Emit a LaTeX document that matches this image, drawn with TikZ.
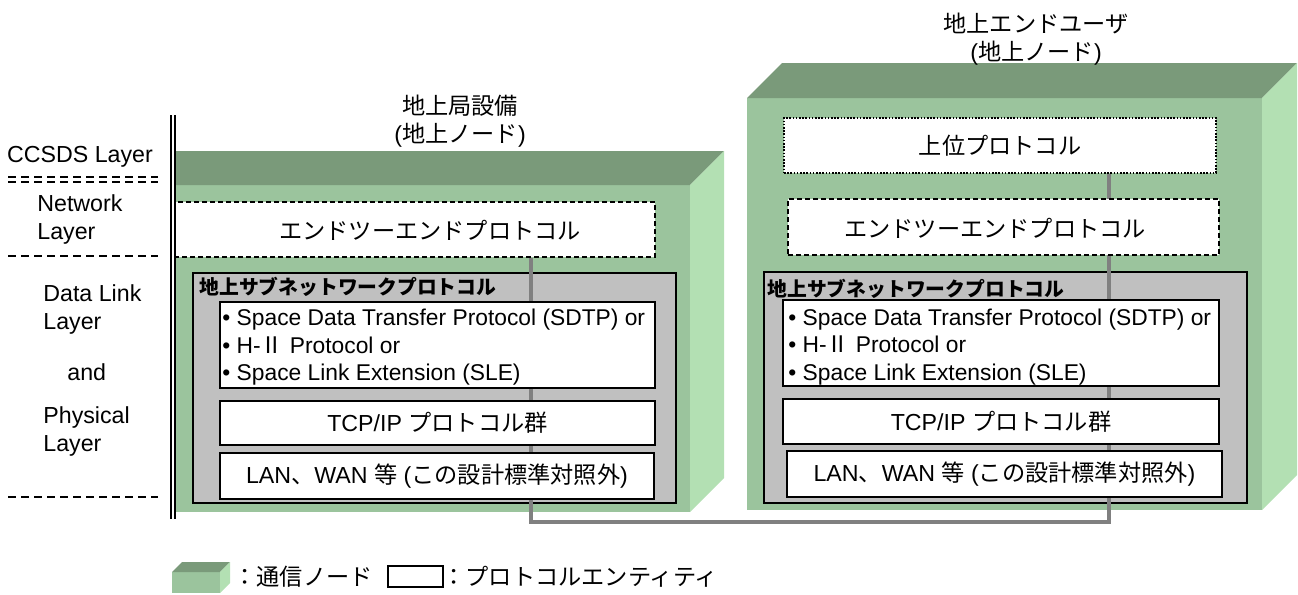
\documentclass[tikz,border=0pt]{standalone}
\usepackage{fontspec}
\setmainfont{Liberation Sans}
\newfontfamily\jp{Noto Sans CJK JP}
\usetikzlibrary{fit}

\definecolor{nodefront}{RGB}{155,196,157}
\definecolor{nodetop}{RGB}{122,154,122}
\definecolor{nodeside}{RGB}{179,224,179}
\definecolor{subnetgray}{RGB}{192,192,192}
\definecolor{linkgray}{RGB}{128,128,128}

\tikzset{
  txt/.style={font=\fontsize{11.6}{13.75}\selectfont, inner sep=0pt},
  bullettxt/.style={font=\fontsize{11.4}{13.75}\selectfont, inner sep=0pt, anchor=west, align=left},
  titletxt/.style={font=\fontsize{9.9}{12}\selectfont\bfseries, inner sep=0pt, anchor=west},
  protobox/.style={draw, fill=white, line width=0.8pt, inner sep=0pt},
  e2ebox/.style={protobox, dash pattern=on 2.5pt off 1.5pt},
  upperbox/.style={protobox, dash pattern=on 0.8pt off 0.8pt},
  subnetbox/.style={draw, fill=subnetgray, line width=1pt, inner sep=0pt},
  link/.style={draw=linkgray, line width=2.3pt},
  layerline/.style={line width=0.7pt, dash pattern=on 4pt off 2.5pt}
}

% 3D box of a communication node: front corners (#1,#2) (#3,#4), depth #5
\newcommand\commnode[5]{%
  \fill[nodefront] (#1,#2) rectangle (#3,#4);
  \fill[nodetop] (#1,#2) -- (#1+#5,#2-#5) -- (#3+#5,#2-#5) -- (#3,#2) -- cycle;
  \fill[nodeside] (#3,#2) -- (#3+#5,#2-#5) -- (#3+#5,#4-#5) -- (#3,#4) -- cycle;
}

\begin{document}
\begin{tikzpicture}[x=0.5pt,y=-0.5pt]
  \useasboundingbox (0,0) rectangle (1298,595);

  % layer names
  \node[txt] (ccsds) at (80,157) {CCSDS Layer};
  \node[txt, anchor=west, align=left] (netlayer) at (37,219.5) {Network\\Layer};
  \node[txt, anchor=west, align=left] (dlayer) at (43,309.5) {Data Link\\Layer};
  \node[txt, anchor=west] (andtxt) at (67,372) {and};
  \node[txt, anchor=west, align=left] (phlayer) at (43,431.5) {Physical\\Layer};
  \draw[layerline] (8,177) -- (158,177);
  \draw[layerline] (8,182) -- (158,182);
  \draw[layerline] (8,256) -- (158,256);
  \draw[layerline] (8,497) -- (158,497);

  % ground station
  \begin{scope}
    \clip (176,0) rectangle (1298,595);
    \commnode{141}{185}{690}{512}{34}
    \node[e2ebox, fit={(150,202) (655,257)}] (e2eL) {};
  \end{scope}
  % ground end user
  \commnode{747}{98}{1262}{510}{35}

  \node[subnetbox, fit={(193,273) (676,503)}] (subnetL) {};
  \node[subnetbox, fit={(764,272) (1247,503)}] (subnetR) {};

  % link between the nodes
  \coordinate (jointL) at (531,522);
  \coordinate (jointR) at (1109,522);
  \node[upperbox, fit={(784,118) (1216,173)}] (upperR) {};
  \draw[link] (e2eL.south -| jointL) -- (jointL) -- (jointR) -- (upperR.south -| jointR);

  \node[e2ebox, fit={(788,199) (1219,255)}] (e2eR) {};
  \node[protobox, fit={(220,302) (655,388)}] (sdtpL) {};
  \node[protobox, fit={(220,401) (655,445)}] (tcpL) {};
  \node[protobox, fit={(220,453) (654,499)}] (lanL) {};
  \node[protobox, fit={(783,300) (1219,386)}] (sdtpR) {};
  \node[protobox, fit={(783,399) (1219,444)}] (tcpR) {};
  \node[protobox, fit={(787,451) (1222,497)}] (lanR) {};

  % texts
  \node[txt, align=center] (stationname) at (460,121) {{\jp 地上局設備}\\({\jp 地上ノード})};
  \node[txt, align=center] (username) at (1036,39) {{\jp 地上エンドユーザ}\\({\jp 地上ノード})};
  \node[txt] (e2eLtext) at (430,230) {\jp エンドツーエンドプロトコル};
  \node[txt] (e2eRtext) at (995,228) {\jp エンドツーエンドプロトコル};
  \node[txt] (uppertext) at (1000,146) {\jp 上位プロトコル};
  \node[titletxt] (subnetLtitle) at (199,287) {\jp 地上サブネットワークプロトコル};
  \node[titletxt] (subnetRtitle) at (767,289) {\jp 地上サブネットワークプロトコル};
  \foreach \bx/\by/\name in {222/347.5/sdtpLtext, 788/347/sdtpRtext}
    \node[bullettxt] (\name) at (\bx,\by)
      {• Space Data Transfer Protocol (SDTP) or\\• H-{\jp Ⅱ} Protocol or\\• Space Link Extension (SLE)};
  \node[txt] (tcpLtext) at (tcpL.center) {TCP/IP {\jp プロトコル群}};
  \node[txt] (tcpRtext) at (tcpR.center) {TCP/IP {\jp プロトコル群}};
  \node[txt] (lanLtext) at (lanL.center) {LAN{\jp 、}WAN {\jp 等} ({\jp この設計標準対照外})};
  \node[txt] (lanRtext) at (lanR.center) {LAN{\jp 、}WAN {\jp 等} ({\jp この設計標準対照外})};

  % CCSDS layer border
  \draw[line width=0.8pt] (171,115) -- (171,519);
  \draw[line width=0.8pt] (175,115) -- (175,519);

  % legend
  \commnode{172}{572}{220}{593}{10}
  \node[txt, anchor=west] (legendnode) at (233,577) {\jp ：通信ノード};
  \node[protobox, fit={(388,566) (443,587)}] (legendbox) {};
  \node[txt, anchor=west] (legendentity) at (442,577) {\jp ：プロトコルエンティティ};
\end{tikzpicture}
\end{document}
